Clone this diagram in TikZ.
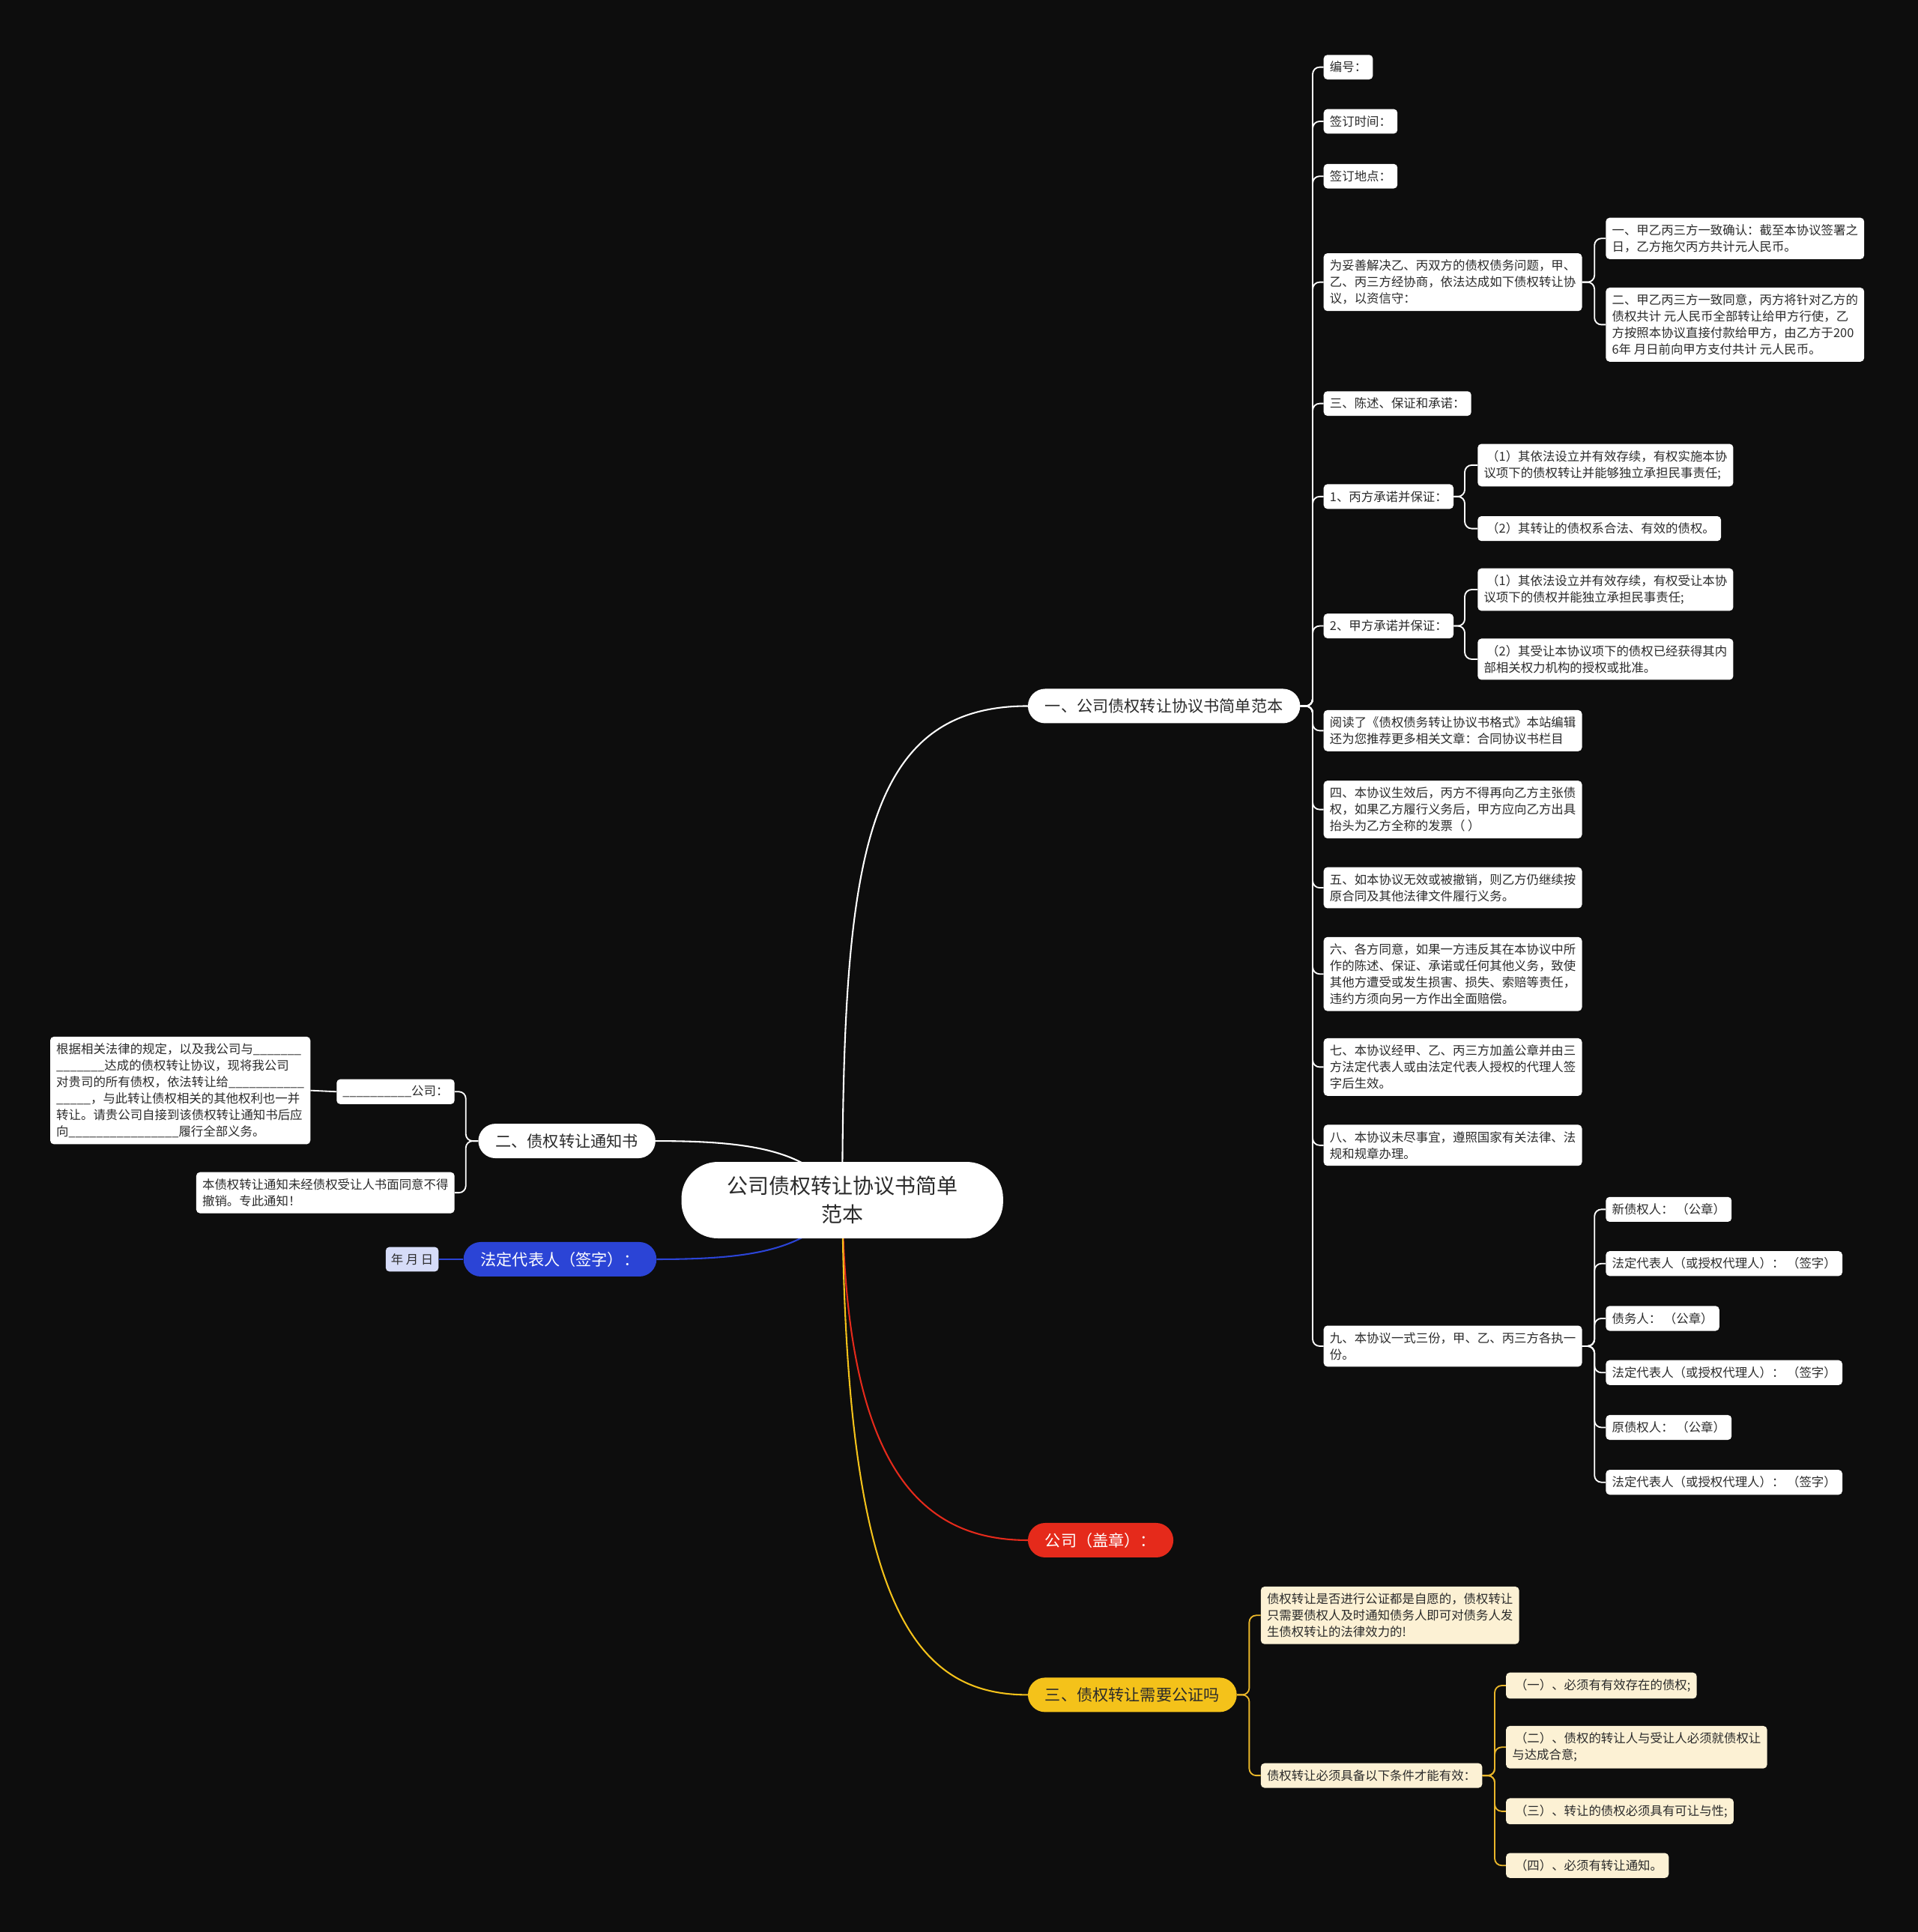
\documentclass[tikz,border=0pt]{standalone}
\usepackage{fontspec}
\setmainfont{Noto Sans CJK SC}
\usetikzlibrary{backgrounds}
\definecolor{bgc}{HTML}{0D0D0D}
\definecolor{txt}{HTML}{2B2B2B}
\definecolor{bluec}{HTML}{2B44D6}
\definecolor{bluel}{HTML}{D6DCF8}
\definecolor{redc}{HTML}{E52A1B}
\definecolor{yelc}{HTML}{F4C21A}
\definecolor{yell}{HTML}{E9B62A}
\definecolor{cream}{HTML}{FCF1D4}
\newcommand\fsmall{\fontsize{14.2pt}{19pt}\selectfont}
\newcommand\fmid{\fontsize{18.3pt}{24pt}\selectfont}
\newcommand\fbig{\fontsize{24.2pt}{32.7pt}\selectfont}
\tikzset{
  leaf/.style={fill=white, text=txt, rounded corners=4.3pt, inner xsep=7.1pt, inner ysep=7.6pt, align=left, font=\fsmall, anchor=west},
  creamleaf/.style={leaf, fill=cream, text=txt},
  pill/.style={rounded corners=19.9pt, inner xsep=19.9pt, inner ysep=10.7pt, font=\fmid, anchor=west, minimum height=39.8pt},
  wline/.style={draw=white, line width=1.6pt, rounded corners=8pt},
  yline/.style={draw=yell, line width=1.6pt, rounded corners=8pt},
  wmain/.style={draw=white, line width=1.8pt},
}
\begin{document}
\begin{tikzpicture}[x=0.5mm,y=-0.5mm]
\useasboundingbox (0,0) rectangle (1556,1568);
% center
\node[fill=white, text=txt, rounded corners=42pt, minimum width=130.5mm, minimum height=31mm, align=center, font=\fbig] (ctr) at (683.5,974) {公司债权转让协议书简单\\范本};
% branches
\node[pill, fill=white, text=txt] (b1) at (834,573) {一、公司债权转让协议书简单范本};
\node[pill, fill=white, text=txt] (b2) at (388,926) {二、债权转让通知书};
\node[pill, fill=bluec, text=white] (b3) at (376,1022) {法定代表人（签字）：};
\node[pill, fill=redc, text=white] (b4) at (834,1250) {公司（盖章）：};
\node[pill, fill=yelc, text=txt] (b5) at (834,1375.5) {三、债权转让需要公证吗};
% branch 1 children
\node[leaf] (a1) at (1074,54.5) {编号：};
\node[leaf] (a2) at (1074,98.5) {签订时间：};
\node[leaf] (a3) at (1074,143) {签订地点：};
\node[leaf] (a4) at (1074,229) {为妥善解决乙、丙双方的债权债务问题，甲、\\乙、丙三方经协商，依法达成如下债权转让协\\议，以资信守：};
\node[leaf] (a4a) at (1303,193.5) {一、甲乙丙三方一致确认：截至本协议签署之\\日，乙方拖欠丙方共计元人民币。};
\node[leaf] (a4b) at (1303,263.5) {二、甲乙丙三方一致同意，丙方将针对乙方的\\债权共计 元人民币全部转让给甲方行使，乙\\方按照本协议直接付款给甲方，由乙方于200\\6年 月日前向甲方支付共计 元人民币。};
\node[leaf] (a5) at (1074,327.5) {三、陈述、保证和承诺：};
\node[leaf] (a6) at (1074,403) {1、丙方承诺并保证：};
\node[leaf] (a6a) at (1199,377.5) {\ （1）其依法设立并有效存续，有权实施本协\\议项下的债权转让并能够独立承担民事责任;};
\node[leaf] (a6b) at (1199,429) {\ （2）其转让的债权系合法、有效的债权。};
\node[leaf] (a7) at (1074,508) {2、甲方承诺并保证：};
\node[leaf] (a7a) at (1199,478.5) {\ （1）其依法设立并有效存续，有权受让本协\\议项下的债权并能独立承担民事责任;};
\node[leaf] (a7b) at (1199,535) {\ （2）其受让本协议项下的债权已经获得其内\\部相关权力机构的授权或批准。};
\node[leaf] (a8) at (1074,593) {阅读了《债权债务转让协议书格式》本站编辑\\还为您推荐更多相关文章：合同协议书栏目};
\node[leaf] (a9) at (1074,657) {四、本协议生效后，丙方不得再向乙方主张债\\权，如果乙方履行义务后，甲方应向乙方出具\\抬头为乙方全称的发票（ ）};
\node[leaf] (a10) at (1074,720.5) {五、如本协议无效或被撤销，则乙方仍继续按\\原合同及其他法律文件履行义务。};
\node[leaf] (a11) at (1074,790.5) {六、各方同意，如果一方违反其在本协议中所\\作的陈述、保证、承诺或任何其他义务，致使\\其他方遭受或发生损害、损失、索赔等责任，\\违约方须向另一方作出全面赔偿。};
\node[leaf] (a12) at (1074,866) {七、本协议经甲、乙、丙三方加盖公章并由三\\方法定代表人或由法定代表人授权的代理人签\\字后生效。};
\node[leaf] (a13) at (1074,929.5) {八、本协议未尽事宜，遵照国家有关法律、法\\规和规章办理。};
\node[leaf] (a14) at (1074,1092.5) {九、本协议一式三份，甲、乙、丙三方各执一\\份。};
\node[leaf] (s1) at (1303,981.5) {新债权人：\ （公章）};
\node[leaf] (s2) at (1303,1025.5) {法定代表人（或授权代理人）：\ （签字）};
\node[leaf] (s3) at (1303,1070) {债务人：\ （公章）};
\node[leaf] (s4) at (1303,1114) {法定代表人（或授权代理人）：\ （签字）};
\node[leaf] (s5) at (1303,1158.5) {原债权人：\ （公章）};
\node[leaf] (s6) at (1303,1203) {法定代表人（或授权代理人）：\ （签字）};
% branch 2 children
\node[leaf, anchor=east] (c1) at (369,886) {\_\_\_\_\_\_\_\_\_\_公司：};
\node[leaf, anchor=east] (c1a) at (252,885) {根据相关法律的规定，以及我公司与\_\_\_\_\_\_\_\\\_\_\_\_\_\_\_达成的债权转让协议，现将我公司\\对贵司的所有债权，依法转让给\_\_\_\_\_\_\_\_\_\_\_\\\_\_\_\_\_，与此转让债权相关的其他权利也一并\\转让。请贵公司自接到该债权转让通知书后应\\向\_\_\_\_\_\_\_\_\_\_\_\_\_\_\_\_履行全部义务。};
\node[leaf, anchor=east] (c2) at (369,968) {本债权转让通知未经债权受让人书面同意不得\\撤销。专此通知！};
% branch 3 child
\node[leaf, anchor=east, fill=bluel, inner xsep=6pt] (d1) at (356,1022) {年 月 日};
% branch 5 children
\node[creamleaf] (e1) at (1023,1311) {债权转让是否进行公证都是自愿的，债权转让\\只需要债权人及时通知债务人即可对债务人发\\生债权转让的法律效力的!};
\node[creamleaf] (e2) at (1023,1441) {债权转让必须具备以下条件才能有效：};
\node[creamleaf] (f1) at (1222,1368) {\ （一）、必须有有效存在的债权;};
\node[creamleaf] (f2) at (1222,1418) {\ （二）、债权的转让人与受让人必须就债权让\\与达成合意;};
\node[creamleaf] (f3) at (1222,1470) {\ （三）、转让的债权必须具有可让与性;};
\node[creamleaf] (f4) at (1222,1514) {\ （四）、必须有转让通知。};

\begin{pgfonlayer}{background}
\fill[bgc] (-5,-5) rectangle (1561,1573);
% main curves
\draw[wmain] (ctr.center) .. controls (684,700) and (700,573) .. (b1.west);
\draw[wmain] (b2.east) .. controls +(80,0) and +(-25,-40) .. (ctr.center);
\draw[draw=bluec, line width=1.8pt] (b3.east) .. controls +(80,0) and +(-25,40) .. (ctr.center);
\draw[draw=redc, line width=1.8pt] (ctr.center) .. controls (686,1180) and (740,1250) .. (b4.west);
\draw[draw=yelc, line width=1.8pt] (ctr.center) .. controls (686,1300) and (740,1375.5) .. (b5.west);
% branch 1
\foreach \n in {a1,a2,a3,a4,a5,a6,a7,a8,a9,a10,a11,a12,a13,a14}
  \draw[wline] (b1.east) -- ++(10,0) |- (\n.west);
\foreach \n in {a4a,a4b}
  \draw[wline] (a4.east) -- ++(10,0) |- (\n.west);
\foreach \n in {a6a,a6b}
  \draw[wline] (a6.east) -- ++(9,0) |- (\n.west);
\foreach \n in {a7a,a7b}
  \draw[wline] (a7.east) -- ++(9,0) |- (\n.west);
\foreach \n in {s1,s2,s3,s4,s5,s6}
  \draw[wline] (a14.east) -- ++(10,0) |- (\n.west);
% branch 2
\foreach \n in {c1,c2}
  \draw[wline] (b2.west) -- ++(-10,0) |- (\n.east);
\draw[wline] (c1.west) -- (c1a.east);
% branch 3
\draw[draw=bluec, line width=1.6pt] (b3.west) -- (d1.east);
% branch 5
\foreach \n in {e1,e2}
  \draw[yline] (b5.east) -- ++(10,0) |- (\n.west);
\foreach \n in {f1,f2,f3,f4}
  \draw[yline] (e2.east) -- ++(10,0) |- (\n.west);
\end{pgfonlayer}
\end{tikzpicture}
\end{document}
